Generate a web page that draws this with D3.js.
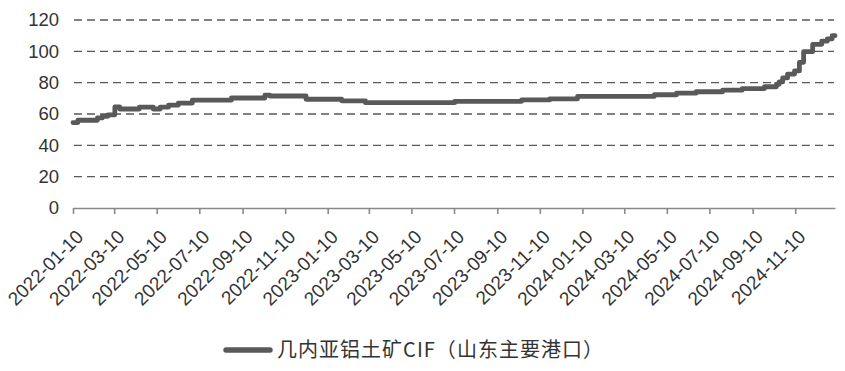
<!DOCTYPE html>
<html>
<head>
<meta charset="utf-8">
<script src="https://cdn.jsdelivr.net/npm/d3@7"></script>
<style>
  body { margin: 0; background: #fff; }
  svg { display: block; }
</style>
</head>
<body>
<svg></svg>
<script>
// step change points
var dates = ["2022-01-10", "2022-01-17", "2022-02-14", "2022-02-21", "2022-03-01", "2022-03-11",
    "2022-03-18", "2022-04-15", "2022-05-05", "2022-05-15", "2022-05-27", "2022-06-10",
    "2022-06-30", "2022-08-25", "2022-10-12", "2022-10-19", "2022-12-10", "2023-01-30",
    "2023-03-05", "2023-07-11", "2023-10-15", "2023-11-24", "2024-01-03", "2024-04-22",
    "2024-05-24", "2024-06-21", "2024-07-29", "2024-08-26", "2024-09-27", "2024-10-14",
    "2024-10-18", "2024-10-23", "2024-10-30", "2024-11-09", "2024-11-16", "2024-11-22",
    "2024-12-05", "2024-12-18", "2024-12-26", "2025-01-02", "2025-01-06"];
var values = [54.5, 56, 57.5, 58.5, 59.5, 64.5,
    63.2, 64.4, 63.2, 64.4, 65.7, 67,
    68.8, 70.2, 72, 71.5, 69.4, 68.4,
    67.2, 68.1, 69, 69.6, 71.2, 72.3,
    73.3, 74.2, 75.2, 76.2, 77.4, 79,
    80.5, 83, 85.5, 87.5, 93, 99.8,
    104.5, 106.5, 108, 110, 110];
var seriesName = "几内亚铝土矿CIF（山东主要港口）";
var xTickLabels = ["2022-01-10", "2022-03-10", "2022-05-10", "2022-07-10", "2022-09-10", "2022-11-10",
    "2023-01-10", "2023-03-10", "2023-05-10", "2023-07-10", "2023-09-10", "2023-11-10",
    "2024-01-10", "2024-03-10", "2024-05-10", "2024-07-10", "2024-09-10", "2024-11-10"];
var yTicks = [0, 20, 40, 60, 80, 100, 120];

var svgWidth = 845, svgHeight = 371;
var parse = d3.timeParse("%Y-%m-%d");
var data = dates.map(function(d, i) { return {date: parse(d), value: values[i]}; });

var svg = d3.select("svg")
    .attr("width", svgWidth)
    .attr("height", svgHeight);

var x = d3.scaleTime()
    .domain([parse("2022-01-10"), parse("2025-01-06")])
    .range([73, 835]);
var y = d3.scaleLinear()
    .domain([0, 120])
    .range([208, 20]);

// dashed grid lines
svg.selectAll(".grid")
    .data(yTicks.filter(function(d) { return d > 0; }))
    .enter()
    .append("line")
    .attr("class", "grid")
    .attr("x1", 74).attr("x2", 834)
    .attr("y1", function(d) { return y(d); })
    .attr("y2", function(d) { return y(d); })
    .attr("stroke", "#595959")
    .attr("stroke-width", 1.3)
    .attr("stroke-dasharray", "8,5");

// y labels
var yAxis = svg.append("g")
    .attr("transform", "translate(73,0)")
    .call(d3.axisLeft(y).tickValues(yTicks).tickSize(0).tickPadding(14));
yAxis.select(".domain").remove();
yAxis.selectAll("text")
    .style("font-family", "Liberation Sans, Arial")
    .style("font-size", "18.5px")
    .attr("fill", "#333");

// x axis
var xAxis = svg.append("g")
    .attr("transform", "translate(0,208)")
    .call(d3.axisBottom(x).tickValues(xTickLabels.map(parse)).tickSize(6).tickSizeOuter(0));
xAxis.select(".domain").attr("stroke", "#898989").attr("stroke-width", 1.6);
xAxis.selectAll(".tick line").attr("stroke", "#898989").attr("stroke-width", 1.6);
xAxis.selectAll("text")
    .text(function(d, i) { return xTickLabels[i]; })
    .style("font-family", "Liberation Sans, Arial")
    .style("font-size", "19px")
    .attr("fill", "#333")
    .attr("text-anchor", "end")
    .attr("dy", null)
    .attr("y", 0)
    .attr("transform", "translate(11,30) rotate(-45)");

// the series
var line = d3.line()
    .curve(d3.curveStepAfter)
    .x(function(d) { return x(d.date); })
    .y(function(d) { return y(d.value); });

svg.append("path")
    .datum(data)
    .attr("d", line)
    .attr("fill", "none")
    .attr("stroke", "#595959")
    .attr("stroke-width", 4.8)
    .attr("stroke-linejoin", "round")
    .attr("stroke-linecap", "round");

// legend
svg.append("line")
    .attr("x1", 226).attr("x2", 270)
    .attr("y1", 350).attr("y2", 350)
    .attr("stroke", "#595959")
    .attr("stroke-width", 5.5)
    .attr("stroke-linecap", "round");
svg.append("text")
    .attr("x", 277)
    .attr("y", 357)
    .style("font-family", "Noto Sans CJK SC")
    .style("font-size", "20px")
    .attr("fill", "#333")
    .attr("textLength", 326)
    .text(seriesName);
</script>
</body>
</html>
